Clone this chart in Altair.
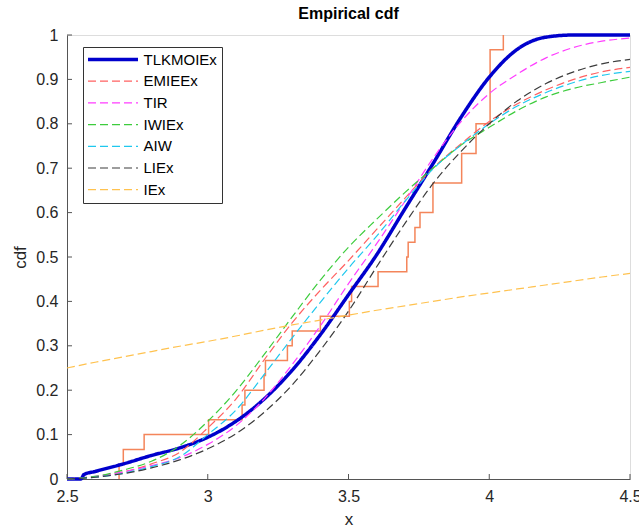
import altair as alt
import pandas as pd

# ---------------- data ----------------
models = ["TLKMOIEx", "EMIEEx", "TIR", "IWIEx", "AIW", "LIEx", "IEx"]
colors = ["#0000CC", "#FF6161", "#FF3DFF", "#3DCC3D", "#1FC8EE", "#3C3C3C", "#FFC24F"]
dashes = [[1, 0], [8, 4], [8, 4], [8, 4], [8, 4], [8, 4], [8, 4]]
widths = [3.5, 1.2, 1.2, 1.2, 1.2, 1.2, 1.2]

x_grid = [2.5, 2.6, 2.7, 2.8, 2.9, 3.0, 3.1, 3.2, 3.3, 3.4, 3.5,
          3.6, 3.7, 3.8, 3.9, 4.0, 4.1, 4.2, 4.3, 4.4, 4.5]

tlk_x = [2.5, 2.55, 2.56, 2.6, 2.7, 2.8, 2.9, 3.0, 3.1, 3.2, 3.3, 3.4, 3.5,
         3.6, 3.7, 3.8, 3.9, 4.0, 4.1, 4.2, 4.3, 4.4, 4.5]
tlk_y = [0.0, 0.0, 0.010, 0.017, 0.034, 0.053, 0.070, 0.094, 0.130, 0.180, 0.245, 0.325, 0.415,
         0.505, 0.608, 0.710, 0.815, 0.905, 0.968, 0.995, 1.0, 1.0, 1.0]

emieex_y = [0.0, 0.005, 0.016, 0.034, 0.060, 0.115, 0.180, 0.268, 0.352, 0.425, 0.492,
            0.562, 0.632, 0.700, 0.755, 0.805, 0.845, 0.876, 0.900, 0.917, 0.927]
tir_y = [0.0, 0.006, 0.016, 0.030, 0.048, 0.078, 0.120, 0.180, 0.258, 0.345, 0.440,
         0.530, 0.625, 0.722, 0.805, 0.868, 0.912, 0.948, 0.972, 0.986, 0.993]
iwiex_y = [0.0, 0.006, 0.020, 0.040, 0.075, 0.130, 0.198, 0.280, 0.365, 0.448, 0.522,
           0.585, 0.645, 0.700, 0.752, 0.792, 0.830, 0.860, 0.880, 0.893, 0.905]
aiw_y = [0.0, 0.004, 0.013, 0.028, 0.050, 0.100, 0.155, 0.235, 0.318, 0.398, 0.475,
         0.547, 0.625, 0.698, 0.752, 0.800, 0.840, 0.870, 0.893, 0.909, 0.918]
liex_y = [0.0, 0.004, 0.012, 0.025, 0.043, 0.068, 0.102, 0.150, 0.212, 0.290, 0.378,
          0.478, 0.575, 0.665, 0.738, 0.800, 0.852, 0.890, 0.917, 0.935, 0.945]
iex_y = [0.250, 0.263, 0.275, 0.287, 0.299, 0.310, 0.322, 0.335, 0.347, 0.358, 0.369,
         0.380, 0.390, 0.400, 0.410, 0.419, 0.428, 0.437, 0.446, 0.455, 0.463]

# observed sample (empirical cdf)
sample = [2.685, 2.700, 2.774, 3.003, 3.122, 3.132, 3.200, 3.205, 3.283, 3.300,
          3.400, 3.503, 3.511, 3.605, 3.707, 3.712, 3.736, 3.754, 3.800, 3.800,
          3.902, 3.902, 3.953, 3.953, 4.003, 4.003, 4.003, 4.003, 4.003, 4.050]

x_ticks = [2.5, 3.0, 3.5, 4.0, 4.5]
y_ticks = [0.0, 0.1, 0.2, 0.3, 0.4, 0.5, 0.6, 0.7, 0.8, 0.9, 1.0]
title_text = ["Empirical cdf"]

# ---------------- tables ----------------
rows = []
for xv, yv in zip(tlk_x, tlk_y):
    rows.append({"model": "TLKMOIEx", "x": xv, "y": yv})
for name, ys in [("EMIEEx", emieex_y), ("TIR", tir_y), ("IWIEx", iwiex_y),
                 ("AIW", aiw_y), ("LIEx", liex_y), ("IEx", iex_y)]:
    for xv, yv in zip(x_grid, ys):
        rows.append({"model": name, "x": xv, "y": yv})
df_curves = pd.DataFrame(rows)

n = len(sample)
srt = sorted(sample)
uniq = sorted(set(srt))
ecdf_rows = [{"i": 0, "x": uniq[0], "y": 0.0}]
for k, u in enumerate(uniq):
    ecdf_rows.append({"i": k + 1, "x": u, "y": sum(1 for s in srt if s <= u) / n})
df_ecdf = pd.DataFrame(ecdf_rows)

df_xt = pd.DataFrame({"x": x_ticks})
df_yt = pd.DataFrame({"y": y_ticks})
df_title = pd.DataFrame({"t": title_text})

FONT = "Liberation Sans"
xscale = alt.Scale(domain=[2.5, 4.5], nice=False, zero=False)
yscale = alt.Scale(domain=[0, 1], nice=False, zero=False)

x_axis = alt.Axis(values=x_ticks, format="~g", title="x", grid=False,
                  tickSize=0, labelPadding=9, labelFlush=False, labelOverlap=False,
                  titleX=281.5, titleY=40, titleAlign="center", titleBaseline="middle")
y_axis = alt.Axis(values=y_ticks, format="~g", title="cdf", grid=False,
                  tickSize=0, labelPadding=9, labelFlush=False, labelOverlap=False,
                  titleAngle=270, titleX=-47, titleY=222,
                  titleAlign="center", titleBaseline="middle")

X = alt.X("x:Q", scale=xscale, axis=x_axis, title="x")
Y = alt.Y("y:Q", scale=yscale, axis=y_axis, title="cdf")

leg = alt.Legend(
    title=None, orient="none", legendX=16, legendY=12, direction="vertical",
    symbolType="M-5,0H5", symbolSize=100, symbolOffset=17.5, labelOffset=23,
    labelFont=FONT, labelFontSize=15, labelColor="#000000",
    strokeColor="#333333", fillColor="#FFFFFF", padding=5, rowPadding=5.7,
)

ecdf = alt.Chart(df_ecdf).mark_line(
    interpolate="step-after", color="#F4855A", strokeWidth=1.5
).encode(x=X, y=Y, order="i:Q")

curves = alt.Chart(df_curves).mark_line(interpolate="monotone").encode(
    x=X, y=Y,
    color=alt.Color("model:N", scale=alt.Scale(domain=models, range=colors), legend=leg),
    strokeDash=alt.StrokeDash("model:N", scale=alt.Scale(domain=models, range=dashes), legend=leg),
    strokeWidth=alt.StrokeWidth("model:N",
                                scale=alt.Scale(type="ordinal", domain=models, range=widths),
                                legend=leg),
)

xt = alt.Chart(df_xt).mark_rule(color="#555555", strokeWidth=1).encode(
    x=X, y=alt.value(444), y2=alt.value(439)
)
yt = alt.Chart(df_yt).mark_rule(color="#555555", strokeWidth=1).encode(
    y=Y, x=alt.value(0), x2=alt.value(5)
)

title = alt.Chart(df_title).mark_text(
    font=FONT, fontSize=16, fontWeight="bold", color="#000000",
    align="center", baseline="alphabetic"
).encode(text="t:N", x=alt.value(281.5), y=alt.value(-16))

chart = alt.layer(ecdf, curves, xt, yt, title).properties(
    width=563, height=444,
    autosize=alt.AutoSizeParams(type="none"),
    padding={"left": 67, "top": 35, "right": 9, "bottom": 51},
).configure_view(stroke=None).configure(background="white").configure_axis(
    labelFont=FONT, labelFontSize=16, labelColor="#262626",
    titleFont=FONT, titleFontSize=17, titleFontWeight="normal", titleColor="#262626",
    domainColor="#555555", domainWidth=1,
)

chart.save("out.html", embed_options={"renderer": "svg", "actions": False})
